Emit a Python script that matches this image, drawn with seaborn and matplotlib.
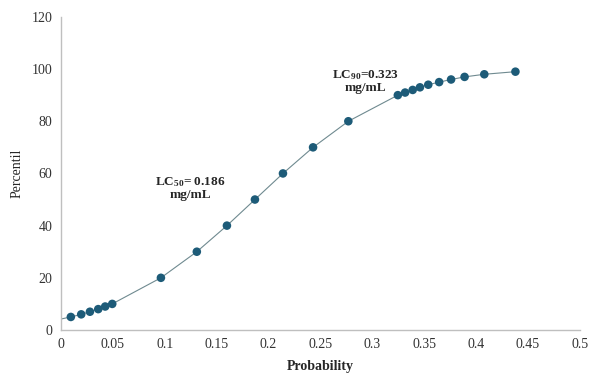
import matplotlib
matplotlib.use("Agg")
import matplotlib.pyplot as plt
import seaborn as sns
import pandas as pd

probability = [0.0096, 0.0196, 0.0280, 0.0360, 0.0427, 0.0495, 0.0964, 0.131, 0.160,
               0.187, 0.214, 0.243, 0.277, 0.3247, 0.3317, 0.339, 0.346, 0.354,
               0.3645, 0.376, 0.389, 0.408, 0.438]
percentil = [5, 6, 7, 8, 9, 10, 20, 30, 40, 50, 60, 70, 80, 90, 91, 92, 93, 94, 95, 96, 97, 98, 99]
trend_start_x = [0.0]
trend_start_y = [4.2]
x_ticks = [0, 0.05, 0.1, 0.15, 0.2, 0.25, 0.3, 0.35, 0.4, 0.45, 0.5]
x_tick_labels = ["0", "0.05", "0.1", "0.15", "0.2", "0.25", "0.3", "0.35", "0.4", "0.45", "0.5"]
y_ticks = [0, 20, 40, 60, 80, 100, 120]

sns.set_style("white")
plt.rcParams["font.family"] = ["Liberation Serif", "DejaVu Serif"]
plt.rcParams["mathtext.fontset"] = "custom"
plt.rcParams["mathtext.rm"] = "Liberation Serif:bold"
plt.rcParams["mathtext.bf"] = "Liberation Serif:bold"
plt.rcParams["mathtext.default"] = "bf"

df = pd.DataFrame({"Probability": probability, "Percentil": percentil})
line_df = pd.DataFrame({"Probability": trend_start_x + probability,
                        "Percentil": trend_start_y + percentil})

fig = plt.figure(figsize=(5.91, 3.75), dpi=100)
ax = fig.add_axes([0.103, 0.12, 0.878, 0.835])

sns.lineplot(data=line_df, x="Probability", y="Percentil", ax=ax, color="#6f8a90",
             linewidth=0.8, sort=True, estimator=None)
sns.scatterplot(data=df, x="Probability", y="Percentil", ax=ax, color="#1d5b78",
                s=38, edgecolor="none", zorder=3)

ax.set_xlim(0, 0.5)
ax.set_ylim(0, 120)
ax.set_xticks(x_ticks)
ax.set_xticklabels(x_tick_labels)
ax.set_yticks(y_ticks)
ax.tick_params(axis="both", length=0, labelsize=10, colors="#333333", pad=6)

for s in ["top", "right"]:
    ax.spines[s].set_visible(False)
for s in ["left", "bottom"]:
    ax.spines[s].set_color("#bfbfbf")
    ax.spines[s].set_linewidth(1.0)

ax.set_xlabel("Probability", fontsize=10, fontweight="bold", labelpad=6)
ax.set_ylabel("Percentil", fontsize=10, labelpad=6)

ax.text(0.125, 54.5, "LC$_{50}$= 0.186\nmg/mL", fontsize=9.5, fontweight="bold",
        ha="center", va="center", linespacing=1.0)
ax.text(0.2935, 95.5, "LC$_{90}$=0.323\nmg/mL", fontsize=9.5, fontweight="bold",
        ha="center", va="center", linespacing=1.0)

fig.savefig("out.png", dpi=100)
